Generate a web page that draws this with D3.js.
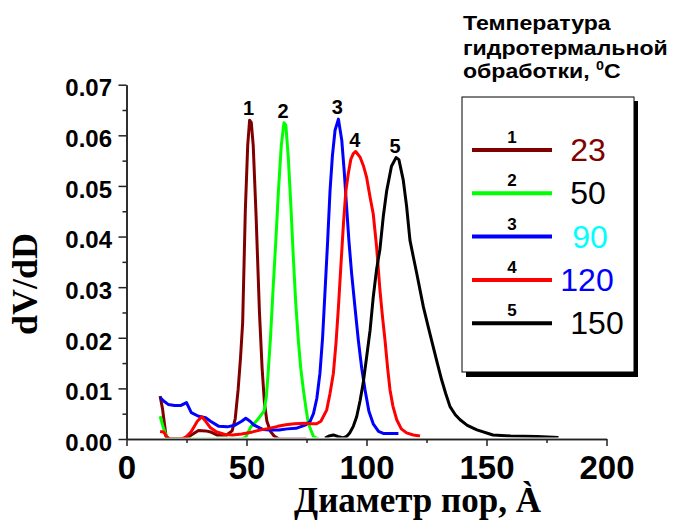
<!DOCTYPE html>
<html>
<head>
<meta charset="utf-8">
<script src="https://d3js.org/d3.v7.min.js"></script>
<style>
  body { margin: 0; background: #fff; }
  svg { display: block; }
  .tick text { font-family: "Liberation Sans", Arial, sans-serif; font-weight: bold; fill: #000; }
</style>
</head>
<body>
<script>
const width = 676;
const height = 520;

// pore size distribution curves, [diameter Å, dV/dD]
const curve23 = [[14,0.0085],[15,0.006],[16.5,0.0005],[18,0],[25,0],[27,0.0008],[30,0.0017],[33,0.0016],[35,0.0014],[37.6,0.0008],[41.7,0.0008],[44,0.0016],[45.3,0.004],[46.5,0.0097],[47.5,0.016],[48.4,0.023],[49.5,0.045],[50.5,0.058],[51.3,0.063],[52,0.0625],[52.8,0.058],[54,0.044],[55.4,0.025],[56.5,0.014],[57.5,0.007],[58.5,0.0035],[60,0.0015],[61.5,0.0006],[63.6,0],[75,0]];
const curve50 = [[14,0.0045],[15.5,0.002],[17,0],[48,0],[49.7,0.0004],[51.8,0.0024],[54.6,0.0038],[57.3,0.0055],[58.3,0.0085],[59,0.013],[60,0.02],[61,0.029],[62.2,0.039],[63.3,0.049],[64.5,0.058],[65.6,0.0625],[66.4,0.062],[67.4,0.0557],[68.5,0.046],[69.5,0.036],[70.5,0.027],[71.6,0.0195],[72.6,0.014],[73.7,0.0097],[74.8,0.006],[75.8,0.003],[77.9,0.0005],[80,0]];
const curve90 = [[14,0.0082],[15.5,0.0075],[17.5,0.0068],[20,0.0066],[22.5,0.0066],[25,0.0072],[27,0.0052],[30,0.0045],[33,0.0042],[35,0.0035],[38.5,0.0025],[42,0.0024],[45,0.0027],[48,0.0035],[49.7,0.0041],[51.5,0.0035],[53,0.0028],[56.7,0.0019],[60,0.0018],[63.6,0.0018],[67,0.002],[70.6,0.0021],[74.7,0.0028],[76.5,0.0035],[77.9,0.005],[79.3,0.008],[80.6,0.013],[81.7,0.02],[82.7,0.029],[83.8,0.039],[84.8,0.049],[85.8,0.056],[86.9,0.061],[88.3,0.0632],[89.7,0.059],[90.7,0.053],[91.7,0.0459],[92.7,0.039],[93.8,0.0327],[95.2,0.026],[96.6,0.0195],[98,0.014],[99.4,0.0097],[101,0.0055],[102.8,0.003],[105,0.0015],[107,0.0011],[113.3,0.0011]];
const curve120 = [[14,0.0015],[15.5,0.0014],[17,0.0002],[18,0],[23,0],[25,0.0005],[27,0.0015],[29.5,0.0035],[31.4,0.0044],[33,0.0035],[35,0.0022],[37.6,0.0014],[41,0.0009],[44.2,0.0008],[48,0.001],[52.5,0.0014],[56,0.0018],[59.4,0.0021],[63,0.0025],[66.4,0.0028],[70,0.003],[74.7,0.0031],[77,0.003],[79.2,0.003],[81,0.0035],[83.4,0.0057],[84.8,0.009],[86.2,0.013],[87.3,0.019],[88.3,0.026],[89.3,0.034],[90.4,0.0426],[91.4,0.049],[92.4,0.0524],[93.5,0.0553],[94.5,0.0564],[95.5,0.0568],[97.3,0.0557],[98.7,0.054],[100,0.0518],[101.4,0.048],[102.8,0.0445],[104.2,0.038],[105.6,0.0294],[106.7,0.024],[107.7,0.0196],[108.8,0.014],[109.8,0.0097],[111,0.0065],[112.6,0.0038],[114.5,0.002],[116.7,0.0012],[119.5,0.0008],[122.3,0.0006]];
const curve150 = [[82.7,0.0002],[84.5,0.0006],[86.2,0.0008],[88,0.0005],[90.3,0.0002],[91.7,0.0005],[93,0.0012],[94.5,0.0025],[95.9,0.0044],[97.3,0.0075],[98.6,0.011],[100,0.016],[101.5,0.0215],[102.8,0.028],[104.2,0.0335],[105.6,0.0375],[107,0.044],[108.4,0.049],[110.4,0.0539],[112.3,0.0556],[113.5,0.0552],[115.3,0.0512],[116.7,0.046],[118.1,0.0393],[119.5,0.036],[120.9,0.0328],[123.7,0.0261],[125.8,0.022],[127.8,0.0182],[129.5,0.015],[131.3,0.0117],[133,0.009],[134.8,0.0064],[137,0.0048],[139,0.0038],[142,0.0027],[146,0.0018],[152.7,0.0008],[160,0.0006],[171,0.0005],[180,0.0003]];

const series = [curve23, curve50, curve90, curve120, curve150];
const seriesColors = ["#800000", "#00ff00", "#0000ff", "#ff0000", "#000000"];
const seriesNames = ["1", "2", "3", "4", "5"];
const temperatures = ["23", "50", "90", "120", "150"];
const temperatureColors = ["#800000", "#000000", "#00ffff", "#0000ff", "#000000"];

const xTicks = [0, 50, 100, 150, 200];
const xMinorTicks = [25, 75, 125, 175];
const yTicks = [0, 0.01, 0.02, 0.03, 0.04, 0.05, 0.06, 0.07];
const yMinorTicks = [0.005, 0.015, 0.025, 0.035, 0.045, 0.055, 0.065];

const legendTitle = ["Температура", "гидротермальной", "обработки, "];

const svg = d3.select("body").append("svg")
  .attr("width", width)
  .attr("height", height);

const x = d3.scaleLinear().domain([0, 200]).range([126.5, 606.5]);
const y = d3.scaleLinear().domain([0, 0.07]).range([439, 84.7]);

// clip so the zero parts of the curves hide under the axis
svg.append("clipPath").attr("id", "plot-clip")
  .append("rect")
  .attr("x", x(0)).attr("y", 0)
  .attr("width", x(200) - x(0)).attr("height", y(0) - 1.5);

const line = d3.line().x(d => x(d[0])).y(d => y(d[1]));

svg.append("g").attr("clip-path", "url(#plot-clip)")
  .selectAll("path")
  .data(series)
  .join("path")
  .attr("d", line)
  .attr("fill", "none")
  .attr("stroke", (d, i) => seriesColors[i])
  .attr("stroke-width", 3)
  .attr("stroke-linejoin", "round");

// peak numbers
svg.append("g").selectAll("text")
  .data(series)
  .join("text")
  .attr("x", d => x(d3.greatest(d, p => p[1])[0]) - 1)
  .attr("y", d => y(d3.greatest(d, p => p[1])[1]) - 5)
  .attr("text-anchor", "middle")
  .style("font-family", "'Liberation Sans', Arial, sans-serif")
  .style("font-weight", "bold")
  .style("font-size", "20px")
  .text((d, i) => seriesNames[i]);

// axes
function styleAxis(g) {
  g.selectAll("path, line").attr("stroke", "#222").attr("stroke-width", 1.5);
}

svg.append("g")
  .attr("transform", `translate(0,${y(0)})`)
  .call(d3.axisBottom(x).tickValues(xMinorTicks).tickSize(4).tickFormat("").tickSizeOuter(0))
  .call(styleAxis);

svg.append("g")
  .attr("transform", `translate(0,${y(0)})`)
  .call(d3.axisBottom(x).tickValues(xTicks).tickSize(7).tickPadding(10).tickSizeOuter(0))
  .call(styleAxis)
  .call(g => g.selectAll("text").style("font-size", "33px"));

svg.append("g")
  .attr("transform", `translate(${x(0)},0)`)
  .call(d3.axisLeft(y).tickValues(yMinorTicks).tickSize(4).tickFormat("").tickSizeOuter(0))
  .call(styleAxis);

svg.append("g")
  .attr("transform", `translate(${x(0)},0)`)
  .call(d3.axisLeft(y).tickValues(yTicks).tickSize(8).tickPadding(6.5).tickFormat(d3.format(".2f")).tickSizeOuter(0))
  .call(styleAxis)
  .call(g => g.selectAll("text").style("font-size", "24px").attr("dy", "0.47em"));

// axis titles
svg.append("text")
  .attr("transform", "translate(37,284) rotate(-90)")
  .attr("text-anchor", "middle")
  .style("font-family", "'Liberation Serif', 'Times New Roman', serif")
  .style("font-weight", "bold")
  .style("font-size", "36px")
  .text("dV/dD");

svg.append("text")
  .attr("x", 417.5)
  .attr("y", 512)
  .attr("text-anchor", "middle")
  .style("font-family", "'Liberation Serif', 'Times New Roman', serif")
  .style("font-weight", "bold")
  .style("font-size", "35px")
  .text("Диаметр пор, À");

// legend title, slightly stretched sideways like the original
const title = svg.append("g")
  .attr("transform", "translate(463,0) scale(1.1,1)")
  .style("font-family", "'Liberation Sans', Arial, sans-serif")
  .style("font-weight", "bold")
  .style("font-size", "21px");

title.selectAll("text")
  .data(legendTitle)
  .join("text")
  .attr("x", 0)
  .attr("y", (d, i) => [30, 55, 78][i])
  .text(d => d);

const lastLine = title.select("text:last-child");
lastLine.append("tspan").attr("dy", -8).style("font-size", "13px").text("0");
lastLine.append("tspan").attr("dy", 8).text("C");

// legend box with shadow
svg.append("rect")
  .attr("x", 466).attr("y", 101)
  .attr("width", 172).attr("height", 276)
  .attr("fill", "#000");
svg.append("rect")
  .attr("x", 462).attr("y", 97)
  .attr("width", 172).attr("height", 275)
  .attr("fill", "#fff")
  .attr("stroke", "#000")
  .attr("stroke-width", 1);

const legend = svg.append("g").selectAll("g")
  .data(series)
  .join("g")
  .attr("transform", (d, i) => `translate(0,${150 + i * 43.3})`);

legend.append("line")
  .attr("x1", 472).attr("x2", 552)
  .attr("stroke", (d, i) => seriesColors[i])
  .attr("stroke-width", 4);

legend.append("text")
  .attr("x", 512).attr("y", -7)
  .attr("text-anchor", "middle")
  .style("font-family", "'Liberation Sans', Arial, sans-serif")
  .style("font-weight", "bold")
  .style("font-size", "17px")
  .text((d, i) => seriesNames[i]);

legend.append("text")
  .attr("x", (d, i) => [588, 588, 590, 587, 597][i])
  .attr("y", 11)
  .attr("text-anchor", "middle")
  .style("font-family", "'Liberation Sans', Arial, sans-serif")
  .style("font-size", "32px")
  .attr("fill", (d, i) => temperatureColors[i])
  .text((d, i) => temperatures[i]);
</script>
</body>
</html>
